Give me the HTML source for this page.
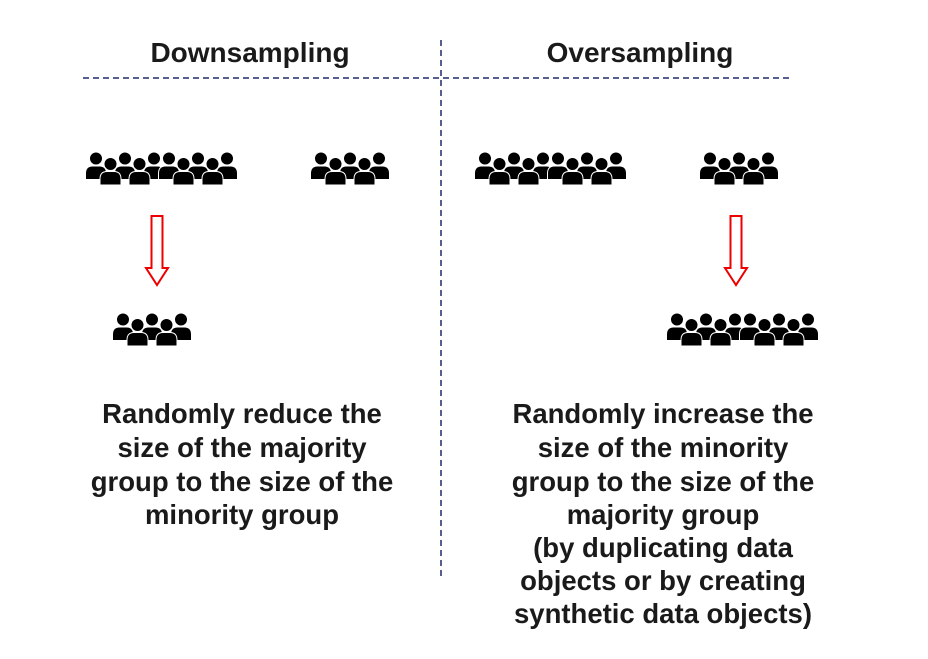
<!DOCTYPE html>
<html><head><meta charset="utf-8"><style>
html,body{margin:0;padding:0;background:#fff}
svg{display:block}
text{font-family:"Liberation Sans",Arial,Helvetica,sans-serif;font-weight:bold;fill:#1a1a1a;font-size:27.5px;text-anchor:middle}
</style></head><body>
<svg width="928" height="659" viewBox="0 0 928 659" xmlns="http://www.w3.org/2000/svg">
<defs>
<g id="p">
<circle cx="0" cy="0" r="6.5" fill="#000" stroke="#fff" stroke-width="1"/>
<path d="M-10.5,21 L-10.5,15 Q-10.5,7.5 -3.5,7.5 L3.5,7.5 Q10.5,7.5 10.5,15 L10.5,21 Z" fill="#000" stroke="#fff" stroke-width="1"/>
</g>
<g id="g5">
<use href="#p" x="0" y="0"/><use href="#p" x="29" y="0"/><use href="#p" x="58" y="0"/>
<use href="#p" x="14.5" y="5.5"/><use href="#p" x="43.5" y="5.5"/>
</g>
<g id="g10">
<use href="#p" x="0" y="0"/><use href="#p" x="29" y="0"/><use href="#p" x="58" y="0"/><use href="#p" x="73" y="0"/><use href="#p" x="102" y="0"/><use href="#p" x="131" y="0"/>
<use href="#p" x="14.5" y="5.5"/><use href="#p" x="43.5" y="5.5"/><use href="#p" x="87.5" y="5.5"/><use href="#p" x="116.5" y="5.5"/>
</g>
<path id="arr" d="M-5.5,0 L5.5,0 L5.5,52 L11,52 L0,69 L-11,52 L-5.5,52 Z" fill="#fff" stroke="#e00" stroke-width="2"/>
</defs>
<line x1="83" y1="78" x2="793" y2="78" stroke="#1f2a6b" stroke-width="1.5" stroke-dasharray="6,4"/>
<line x1="441" y1="40" x2="441" y2="578" stroke="#1f2a6b" stroke-width="1.5" stroke-dasharray="6,4"/>
<text x="250" y="62" style="font-size:28px">Downsampling</text>
<text x="640" y="62" style="font-size:28px">Oversampling</text>
<use href="#g10" x="96" y="158.5"/>
<use href="#g5" x="321" y="158.5"/>
<use href="#g5" x="123" y="319.5"/>
<use href="#g10" x="485" y="158.5"/>
<use href="#g5" x="710" y="158.5"/>
<use href="#g10" x="677" y="319.5"/>
<use href="#arr" x="157" y="216"/>
<use href="#arr" x="736" y="216"/>
<text x="242" y="423">Randomly reduce the</text>
<text x="242" y="457">size of the majority</text>
<text x="242" y="491">group to the size of the</text>
<text x="242" y="524">minority group</text>
<text x="663" y="423">Randomly increase the</text>
<text x="663" y="457">size of the minority</text>
<text x="663" y="491">group to the size of the</text>
<text x="663" y="524">majority group</text>
<text x="663" y="557">(by duplicating data</text>
<text x="663" y="590">objects or by creating</text>
<text x="663" y="623">synthetic data objects)</text>
</svg>
</body></html>
